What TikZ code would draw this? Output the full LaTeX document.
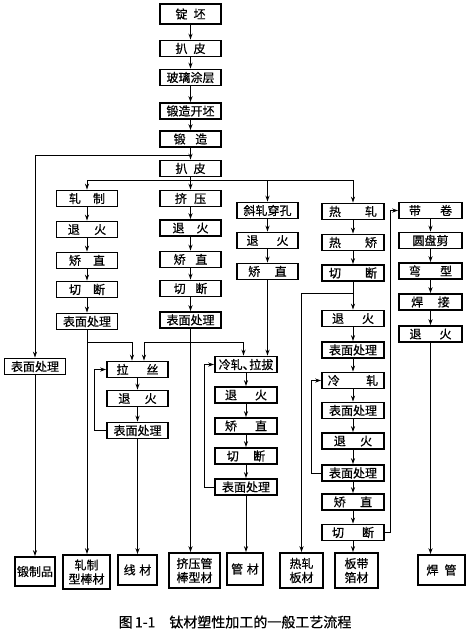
\documentclass[tikz,border=0pt]{standalone}
\usepackage{fontspec}
\newfontfamily\cjk[FakeBold=0.6]{Noto Sans CJK SC}
\usetikzlibrary{arrows.meta}
\newcommand\mygap[1]{\hspace*{#1em}}
\begin{document}
\begin{tikzpicture}[x=1pt,y=-1pt,
  box/.style={draw, line width=1.6pt, fill=white, minimum height=16pt, minimum width=61pt, inner sep=0pt, font=\cjk\fontsize{12}{14}\selectfont},
  prod/.style={draw, line width=1.6pt, fill=white, inner sep=0pt, align=center, font=\cjk\fontsize{12}{14}\selectfont},
  arr/.style={line width=1pt, -{Stealth[length=6pt,width=4pt]}},
  ln/.style={line width=1pt}]
\useasboundingbox (0,0) rectangle (467,633);
\fill[white] (0,0) rectangle (467,633);
% main chain
\node[box, minimum height=20pt] (d1) at (190.5,14) {锭\mygap{0.5}坯};
\node[box] (d2) at (190.5,48.5) {扒\mygap{0.5}皮};
\node[box] (d3) at (190.5,77.5) {玻璃涂层};
\node[box] (d4) at (190.5,111) {锻造开坯};
\node[box] (d5) at (190.5,139) {锻\mygap{0.8}造};
\node[box] (d6) at (190.5,168.5) {扒\mygap{0.5}皮};
% left
\node[box] (L) at (35,366.5) {表面处理};
% column a
\node[box] (a1) at (87,198.5) {轧\mygap{1}制};
\node[box] (a2) at (87,229.5) {退\mygap{1.2}火};
\node[box] (a3) at (87,260.5) {矫\mygap{1}直};
\node[box] (a4) at (87,289.5) {切\mygap{1}断};
\node[box] (a5) at (87,321.5) {表面处理};
% column b
\node[box] (b1) at (190.5,198.5) {挤\mygap{0.6}压};
\node[box] (b2) at (190.5,228) {退\mygap{1}火};
\node[box] (b3) at (190.5,259.5) {矫\mygap{0.8}直};
\node[box] (b4) at (190.5,288.5) {切\mygap{0.8}断};
\node[box] (b5) at (190.5,320) {表面处理};
% column c
\node[box] (c1) at (267.5,210.5) {斜轧穿孔};
\node[box] (c2) at (267.5,240.5) {退\mygap{1.5}火};
\node[box] (c3) at (267.5,271.5) {矫\mygap{1.2}直};
% column e
\node[box, minimum width=62pt] (e1) at (353,211.5) {热\mygap{2}轧};
\node[box, minimum width=62pt] (e2) at (353,242.5) {热\mygap{2}矫};
\node[box, minimum width=62pt] (e3) at (353,273) {切\mygap{2}断};
\node[box, minimum width=62pt] (e4) at (353,318.5) {退\mygap{1.5}火};
\node[box, minimum width=62pt] (e5) at (353,350) {表面处理};
\node[box, minimum width=62pt] (e6) at (353,380.5) {冷\mygap{2.2}轧};
\node[box, minimum width=62pt] (e7) at (353,410.5) {表面处理};
\node[box, minimum width=62pt] (e8) at (353,441) {退\mygap{1.2}火};
\node[box, minimum width=62pt] (e9) at (353,473) {表面处理};
\node[box, minimum width=62pt] (e10) at (353,502) {矫\mygap{1.2}直};
\node[box, minimum width=62pt] (e11) at (353,532.5) {切\mygap{1.5}断};
% column f
\node[box, minimum width=63pt] (f1) at (430.5,210.5) {带\mygap{1.6}卷};
\node[box, minimum width=63pt] (f2) at (430.5,240.5) {圆盘剪};
\node[box, minimum width=63pt] (f3) at (430.5,271) {弯\mygap{1.6}型};
\node[box, minimum width=63pt] (f4) at (430.5,302) {焊\mygap{1.2}接};
\node[box, minimum width=63pt] (f5) at (430.5,334) {退\mygap{1.5}火};
% column g
\node[box] (g1) at (137.5,369.5) {拉\mygap{1.5}丝};
\node[box] (g2) at (137.5,398.5) {退\mygap{1.2}火};
\node[box] (g3) at (137.5,430.5) {表面处理};
% column h
\node[box, minimum width=62pt] (h1) at (246,364.5) {冷轧、\kern-0.45em拉拔};
\node[box, minimum width=62pt] (h2) at (246,395) {退\mygap{1.5}火};
\node[box, minimum width=62pt] (h3) at (246,426) {矫\mygap{1.5}直};
\node[box, minimum width=62pt] (h4) at (246,456) {切\mygap{1.2}断};
\node[box, minimum width=62pt] (h5) at (246,487) {表面处理};
% products
\node[prod, minimum width=40pt, minimum height=29pt] (p1) at (35,571.5) {锻制品};
\node[prod, minimum width=47pt, minimum height=34pt] (p2) at (86.5,572) {轧制\\型棒材};
\node[prod, minimum width=39pt, minimum height=30pt] (p3) at (137.5,570) {线\mygap{0.3}材};
\node[prod, minimum width=51pt, minimum height=35pt] (p4) at (194.5,570.5) {挤压管\\棒型材};
\node[prod, minimum width=36pt, minimum height=32pt] (p5) at (245,569) {管\mygap{0.3}材};
\node[prod, minimum width=43pt, minimum height=35pt] (p6) at (301.5,570.5) {热轧\\板材};
\node[prod, minimum width=43pt, minimum height=35pt] (p7) at (356.5,570.5) {板带\\箔材};
\node[prod, minimum width=47pt, minimum height=30pt] (p8) at (441.5,570) {焊\mygap{0.5}管};
% caption
\node[font=\cjk\fontsize{14}{16}\selectfont] (cap) at (235,622) {图\,1-1\mygap{1}钛材塑性加工的一般工艺流程};
% helper levels
\coordinate (ya) at (0,155);
\coordinate (yb) at (0,180);
\coordinate (yc) at (0,342.5);
\coordinate (yd) at (0,293);
% connectors: main chain
\draw[arr] (d1) -- (d2);
\draw[arr] (d2) -- (d3);
\draw[arr] (d3) -- (d4);
\draw[arr] (d4) -- (d5);
\draw[arr] (d5) -- (d6);
\draw[arr] (d5.south |- ya) -| (L.north);
\draw[arr] (L) -- (L.south |- p1.north);
\draw[arr] (d6) -- (b1);
\draw[arr] (d6.south |- yb) -| (a1.north);
\draw[arr] (d6.south |- yb) -| (c1.north);
\draw[arr] (d6.south |- yb) -| (e1.north);
% column a
\draw[arr] (a1) -- (a2);
\draw[arr] (a2) -- (a3);
\draw[arr] (a3) -- (a4);
\draw[arr] (a4) -- (a5);
\draw[arr] (a5) -- (a5.south |- p2.north);
\draw[arr] (a5.south |- yc) -| ([xshift=-5.5pt]g1.north);
% column b
\draw[arr] (b1) -- (b2);
\draw[arr] (b2) -- (b3);
\draw[arr] (b3) -- (b4);
\draw[arr] (b4) -- (b5);
\draw[arr] (b5) -- (b5.south |- p4.north);
\draw[arr] (b5.south |- yc) -| ([xshift=6.5pt]g1.north);
\draw[arr] (b5.south |- yc) -| ([xshift=-2.5pt]h1.north);
% column c
\draw[arr] (c1) -- (c2);
\draw[arr] (c2) -- (c3);
\draw[arr] (c3) -- (c3.south |- h1.north);
% column g
\draw[arr] (g1) -- (g2);
\draw[arr] (g2) -- (g3);
\draw[arr] (g3.west) -- ++(-12,0) |- (g1.west);
\draw[arr] (g3) -- (g3.south |- p3.north);
% column h
\draw[arr] (h1) -- (h2);
\draw[arr] (h2) -- (h3);
\draw[arr] (h3) -- (h4);
\draw[arr] (h4) -- (h5);
\draw[arr] (h5.west) -- ++(-10,0) |- (h1.west);
\draw[arr] (h5) -- (h5.south |- p5.north);
% column e
\draw[arr] (e1) -- (e2);
\draw[arr] (e2) -- (e3);
\draw[arr] (e3) -- (e4);
\draw[arr] (e3.south |- yd) -| (p6.north);
\draw[arr] (e4) -- (e5);
\draw[arr] (e5) -- (e6);
\draw[arr] (e6) -- (e7);
\draw[arr] (e7) -- (e8);
\draw[arr] (e8) -- (e9);
\draw[arr] (e9) -- (e10);
\draw[arr] (e10) -- (e11);
\draw[arr] (e9.west) -- ++(-10,0) |- (e6.west);
\draw[arr] (e11) -- (e11.south |- p7.north);
\draw[arr] (e11.east) -- ++(6,0) |- (f1.west);
% column f
\draw[arr] (f1) -- (f2);
\draw[arr] (f2) -- (f3);
\draw[arr] (f3) -- (f4);
\draw[arr] (f4) -- (f5);
\draw[arr] (f5) -- (f5.south |- p8.north);
\end{tikzpicture}
\end{document}
